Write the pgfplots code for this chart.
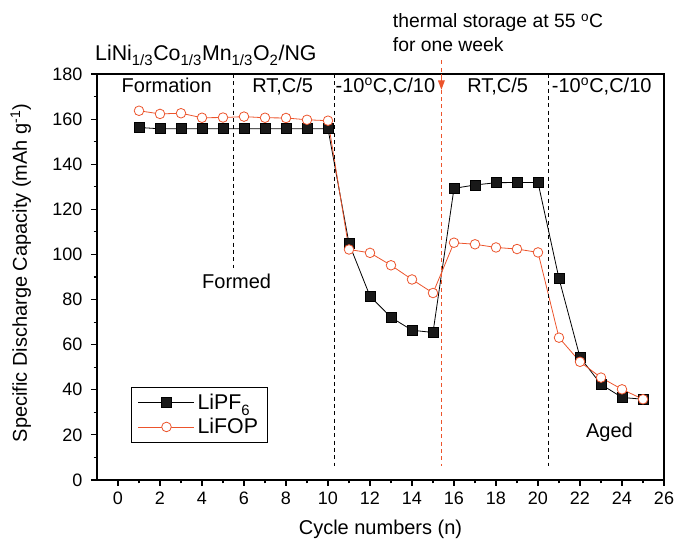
\documentclass[border=0pt]{standalone}
\usepackage{pgfplots}
\pgfplotsset{compat=1.18}
\usepackage{fontspec}
\setmainfont{Liberation Sans}
\usetikzlibrary{arrows.meta}
\definecolor{ora}{RGB}{236,84,44}

\pgfplotstableread{
x y
1 156.3
2 155.7
3 155.7
4 155.7
5 155.7
6 155.7
7 155.7
8 155.7
9 155.7
10 155.7
11 104.9
12 81.5
13 72.1
14 66.4
15 65.4
16 129.3
17 130.8
18 131.8
19 131.9
20 131.9
21 89.3
22 54.4
23 42.4
24 36.6
25 35.8
}\lipf

\pgfplotstableread{
x y
1 163.7
2 162.3
3 162.6
4 160.6
5 160.7
6 161.1
7 160.6
8 160.5
9 159.7
10 159.3
11 102.2
12 100.7
13 95.2
14 88.9
15 82.9
16 105.2
17 104.5
18 103.1
19 102.4
20 100.9
21 63.1
22 52.4
23 45.4
24 40.2
25 35.8
}\lifop

\begin{document}
\begin{tikzpicture}[x=1pt,y=1pt]
\path[use as bounding box] (-72.75,-47.25) rectangle (436.5,360);
\begin{axis}[
  at={(0,0)}, anchor=south west,
  scale only axis, width=425.25pt, height=304.5pt,
  xmin=-1, xmax=26, ymin=0, ymax=180,
  xtick={0,2,...,26}, ytick={0,20,...,180},
  minor x tick num=1, minor y tick num=1,
  xtick pos=bottom, ytick pos=left,
  tick align=outside,
  major tick length=4.5pt, minor tick length=2.5pt,
  every tick/.style={black, line width=0.8pt},
  axis line style={line width=1pt},
  clip=false,
  /pgf/number format/assume math mode=true,
  ticklabel style={font=\fontsize{13.5}{15}\selectfont},
  yticklabel style={xshift=-3pt},
  xticklabel style={yshift=-1pt},
  label style={font=\fontsize{15}{18}\selectfont},
  xlabel={Cycle numbers (n)},
  ylabel={Specific Discharge Capacity (mAh g\textsuperscript{-1})},
  xlabel style={at={(axis description cs:0.5,-0.135)}, anchor=base},
  ylabel style={at={(axis description cs:-0.1235,0.51)}, anchor=base},
  legend style={draw=black, line width=0.6pt, at={(0.06,0.229)}, anchor=north west,
    font=\fontsize{16}{19}\selectfont, inner xsep=5pt, inner ysep=3pt, row sep=1pt},
  legend cell align=left,
  legend image code/.code={%
    \draw[mark repeat=2,mark phase=2] plot coordinates {(0pt,0pt) (21pt,0pt) (42pt,0pt)};},
]
\addplot[black, line width=0.6pt, mark=square*, mark size=3.7pt,
  mark options={fill=black!90, solid}] table {\lipf};
\addlegendentry{LiPF\textsubscript{\raisebox{-2pt}{6}}}
\addplot[ora, line width=0.6pt, mark=*, mark size=3.6pt,
  mark options={fill=white, solid}] table {\lifop};
\addlegendentry{LiFOP}

\draw[black, dash pattern=on 3pt off 2.5pt, line width=0.7pt] (axis cs:5.48,180) -- (axis cs:5.48,94);
\draw[black, dash pattern=on 3pt off 2.5pt, line width=0.7pt] (axis cs:10.29,180) -- (axis cs:10.29,6.2);
\draw[black, dash pattern=on 3pt off 2.5pt, line width=0.7pt] (axis cs:20.5,180) -- (axis cs:20.5,6.2);
\draw[ora, dash pattern=on 3pt off 2.5pt, line width=0.8pt] (axis cs:15.4,186) -- (axis cs:15.4,6.2);
\draw[ora, line width=0.8pt, -{Triangle[width=5pt,length=7pt]}] (axis cs:15.4,180) -- (axis cs:15.4,173);

\begin{scope}[every node/.style={font=\fontsize{15}{18}\selectfont, inner sep=0pt}]
\node[anchor=base west, font=\fontsize{16}{19}\selectfont] at (axis cs:-1.1,186.2) {LiNi\textsubscript{\raisebox{-1.5pt}{1/3}}Co\textsubscript{\raisebox{-1.5pt}{1/3}}Mn\textsubscript{\raisebox{-1.5pt}{1/3}}O\textsubscript{\raisebox{-1.5pt}{2}}/NG};
\node[anchor=base] at (axis cs:2.32,172) {Formation};
\node[anchor=base] at (axis cs:7.84,172) {RT,C/5};
\node[anchor=base west] at (axis cs:10.35,172) {-10\textsuperscript{o}C,C/10};
\node[anchor=base] at (axis cs:18.08,172) {RT,C/5};
\node[anchor=base west] at (axis cs:20.65,172) {-10\textsuperscript{o}C,C/10};
\node[anchor=base west, font=\fontsize{14.5}{17}\selectfont] at (axis cs:13.08,200.4) {thermal storage at 55 \textsuperscript{o}C};
\node[anchor=base west, font=\fontsize{14.5}{17}\selectfont] at (axis cs:13.08,189.9) {for one week};
\node[anchor=base] at (axis cs:5.65,85.1) {Formed};
\node[anchor=base] at (axis cs:23.4,19) {Aged};
\end{scope}
\end{axis}
\end{tikzpicture}
\end{document}
